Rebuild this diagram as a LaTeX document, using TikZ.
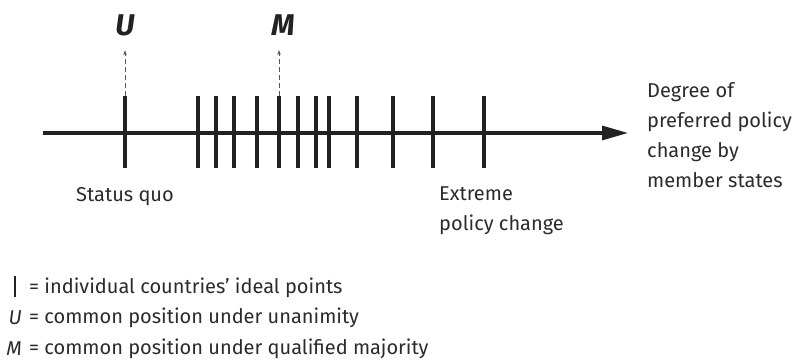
\documentclass[tikz,border=0pt]{standalone}
\usepackage{fontspec}
\setmainfont{Fira Sans}
\usetikzlibrary{arrows.meta,positioning}
\definecolor{inkgray}{HTML}{222222}
\definecolor{textgray}{HTML}{2B2B2B}
\definecolor{dashgray}{HTML}{555555}

\begin{document}
\begin{tikzpicture}[x=1pt, y=-1pt,
    font=\fontsize{20}{30}\selectfont, text=textgray,
    axisline/.style={line width=3.2pt, draw=inkgray},
    idealtick/.style={line width=3.2pt, draw=inkgray},
    dasharrow/.style={dashgray, line width=0.9pt, dash pattern=on 5pt off 3pt,
        -{Stealth[length=5pt, width=3.5pt]}, shorten >=11pt},
    ruleletter/.style={font=\fontsize{30}{30}\selectfont\bfseries\itshape, text=inkgray},
    labeltext/.style={align=left, inner sep=0pt}]

\useasboundingbox (0,0) rectangle (796,361);

% ---- Axis ----
\coordinate (axisstart) at (43,133);
\coordinate (axisend) at (628,133);
\draw[axisline, -{Triangle[length=26pt, width=14pt]}] (axisstart) -- (axisend);

% ---- Ideal points of the member states ----
\foreach \x in {125,198,216,234,257,279,298,316,329,357,393,433,484} {
    \draw[idealtick] (\x,96) -- (\x,168);
}

% ---- Common positions ----
\coordinate (utick) at (125,96);
\coordinate (mtick) at (279,96);
\node[ruleletter] (ulabel) at (125,25) {U};
\node[ruleletter] (mlabel) at (283,25) {M};
\draw[dasharrow] (utick) -- (ulabel.south -| utick);
\draw[dasharrow] (mtick) -- (mlabel.south -| mtick);

% ---- Axis annotations ----
\node[labeltext] (statusquo) at (125,197) {Status quo};
\node[labeltext, anchor=west] (extreme) at (439,211) {Extreme\\policy change};
\node[labeltext, anchor=west] (degree) at (647,135) {Degree of\\preferred policy\\change by\\member states};

% ---- Legend ----
\draw[idealtick, line width=2.6pt] (15,276) -- (15,297);
\node[labeltext, anchor=west] (legtick) at (29,288) {= individual countries’ ideal points};
\node[labeltext, anchor=west] (legu) at (29,318) {= common position under unanimity};
\node[labeltext, anchor=west] (legm) at (29,349) {= common position under qualified majority};
\node[labeltext, anchor=east, font=\fontsize{20}{30}\selectfont\itshape] (legusym) at (22,318) {U};
\node[labeltext, anchor=east, font=\fontsize{20}{30}\selectfont\itshape] (legmsym) at (22,349) {M};

\end{tikzpicture}
\end{document}
